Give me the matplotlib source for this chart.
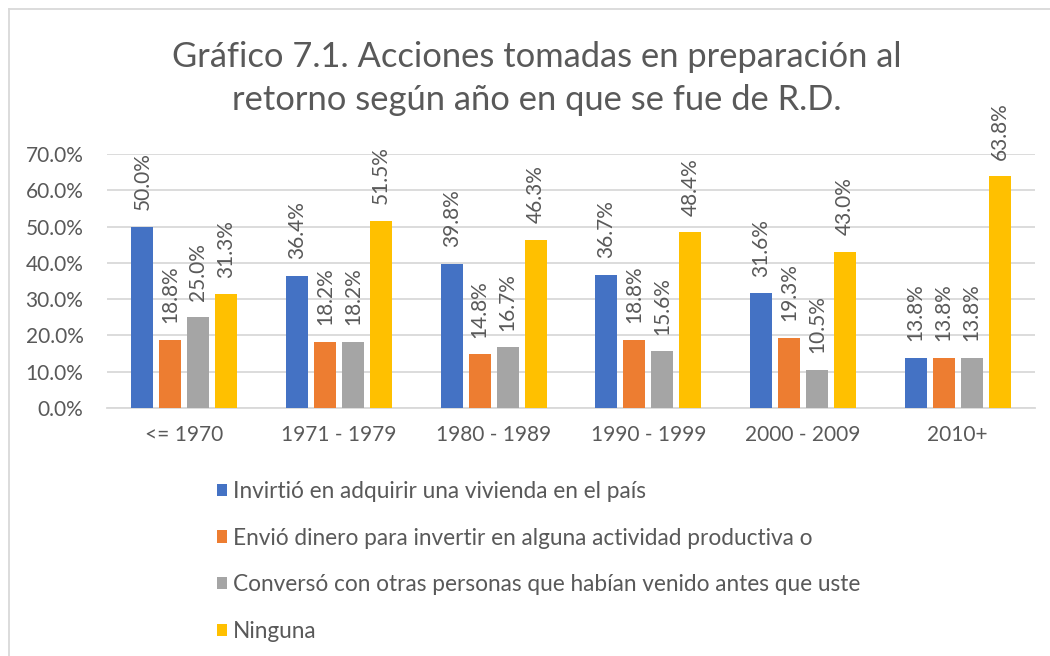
import matplotlib
matplotlib.use('Agg')
import matplotlib.pyplot as plt
import numpy as np
from matplotlib.patches import Patch
from matplotlib.lines import Line2D

plt.rcParams['font.family'] = ['Lato', 'DejaVu Sans']

categories = ['<= 1970', '1971 - 1979', '1980 - 1989', '1990 - 1999', '2000 - 2009', '2010+']
series_names = ['Invirtió en adquirir una vivienda en el país',
                'Envió dinero para invertir en alguna actividad productiva o',
                'Conversó con otras personas que habían venido antes que uste',
                'Ninguna']
vivienda = [50.0, 36.4, 39.8, 36.7, 31.6, 13.8]
dinero = [18.8, 18.2, 14.8, 18.8, 19.3, 13.8]
converso = [25.0, 18.2, 16.7, 15.6, 10.5, 13.8]
ninguna = [31.3, 51.5, 46.3, 48.4, 43.0, 63.8]
colors = ['#4472C4', '#ED7D31', '#A5A5A5', '#FFC000']

txt = '#595959'
grid = '#D9D9D9'

fig = plt.figure(figsize=(10.5, 6.56), dpi=100)
ax = fig.add_axes([107/1050, 1-408/656, 928/1050, 254/656])

x = np.arange(len(categories))
step = 0.181
width = 0.142
for i, vals in enumerate([vivienda, dinero, converso, ninguna]):
    pos = x + (i - 1.5) * step
    v = np.array(vals) / 100
    ax.bar(pos, v, width, color=colors[i], zorder=3)
    for px, pv in zip(pos, v):
        ax.annotate('%.1f%%' % (pv * 100), (px, pv), xytext=(0, 12),
                    textcoords='offset points', rotation=90,
                    ha='center', va='bottom', fontsize=15, color=txt)

ax.set_xlim(-0.5, len(categories) - 0.5)
ax.set_ylim(0, 0.70)
ax.set_yticks(np.arange(0, 0.71, 0.1))
ax.set_yticklabels(['%.1f%%' % (t * 100) for t in np.arange(0, 0.71, 0.1)])
ax.set_xticks(x)
ax.set_xticklabels(categories)
ax.tick_params(axis='both', length=0, labelsize=15, labelcolor=txt)
ax.tick_params(axis='y', pad=17)
ax.tick_params(axis='x', pad=12)
ax.grid(axis='y', color=grid, linewidth=1.3, zorder=0)
for s in ['top', 'right', 'left']:
    ax.spines[s].set_visible(False)
ax.spines['bottom'].set_color(grid)
ax.spines['bottom'].set_linewidth(1.3)

fig.text(537/1050, 1-57/656, 'Gráfico 7.1. Acciones tomadas en preparación al',
         ha='center', va='center', fontsize=24.8, color=txt)
fig.text(537/1050, 1-100/656, 'retorno según año en que se fue de R.D.',
         ha='center', va='center', fontsize=24.8, color=txt)

handles = [Patch(facecolor=c, edgecolor='none') for c in colors]
fig.legend(handles, series_names, loc='upper left', bbox_to_anchor=(217/1050, 1-481/656),
           frameon=False, fontsize=16.3, labelcolor=txt, handlelength=0.45, handleheight=0.45,
           handletextpad=0.25, labelspacing=1.13, borderaxespad=0, borderpad=0)

# chart border
fig.add_artist(Line2D([8.5/1050, 8.5/1050], [0, 1-9/656], color=grid, lw=1.3))
fig.add_artist(Line2D([8.5/1050, 1], [1-9/656, 1-9/656], color=grid, lw=1.3))

fig.savefig('out.png', dpi=100)
